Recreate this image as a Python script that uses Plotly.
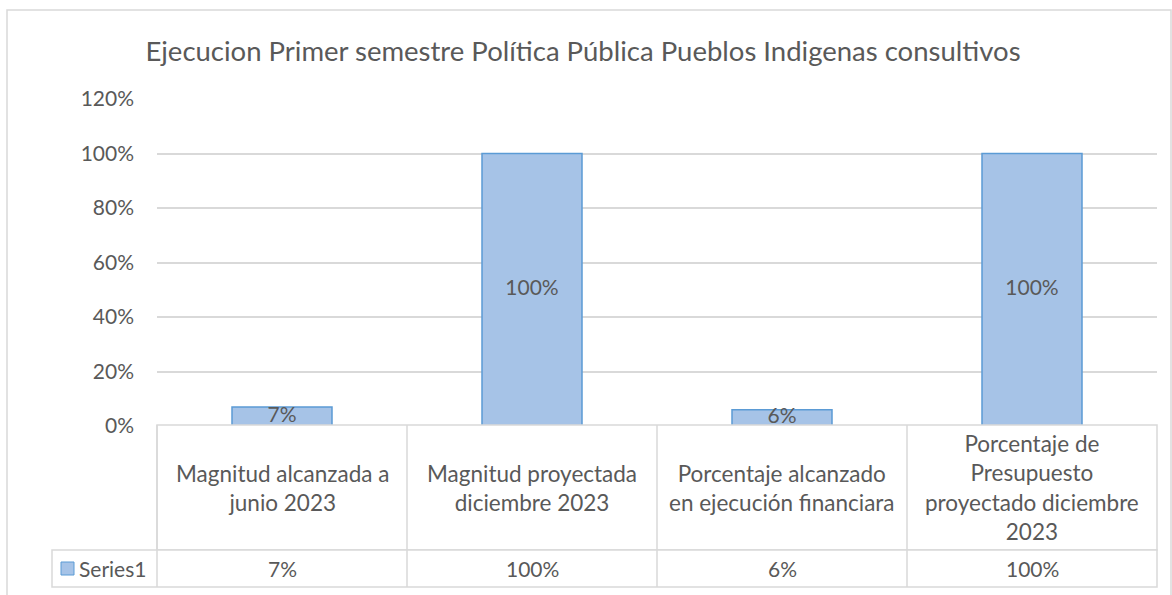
import plotly.graph_objects as go

# Data
categories = ["Magnitud alcanzada a junio 2023",
              "Magnitud proyectada diciembre 2023",
              "Porcentaje alcanzado en ejecución financiara",
              "Porcentaje de Presupuesto proyectado diciembre 2023"]
header_labels = ["Magnitud alcanzada a<br>junio 2023",
                 "Magnitud proyectada<br>diciembre 2023",
                 "Porcentaje alcanzado<br>en ejecución financiara",
                 "Porcentaje de<br>Presupuesto<br>proyectado diciembre<br>2023"]
values = [0.07, 1.00, 0.06, 1.00]
series_name = "Series1"
title = "Ejecucion Primer semestre Política Pública Pueblos Indigenas consultivos"

FONT = "Lato"
GREY = "#595959"
LINE = "#D9D9D9"
BAR = "#A6C3E7"
BAR_EDGE = "#5B9BD5"

# plot area in pixels: x 157..1157, y 99 (top, 120%) .. 426 (0%)
W, H = 1172, 595
L, R, T, B = 157, 1157, 99, 426


def px_x(p):
    return (p - L) / (R - L)


def px_y(p):
    return (B - p) / (B - T)


fig = go.Figure()

fig.add_trace(go.Bar(
    x=categories, y=values, name=series_name,
    marker=dict(color=BAR, line=dict(color=BAR_EDGE, width=1.5)),
    width=0.4, showlegend=False,
))

# data labels centred in the bars
fig.add_trace(go.Scatter(
    x=categories, y=[v / 2 for v in values], mode="text",
    text=[f"{v:.0%}" for v in values],
    textfont=dict(family=FONT, size=21, color=GREY),
    showlegend=False, hoverinfo="skip",
))

fig.update_layout(
    width=W, height=H,
    margin=dict(l=L, r=W - R, t=T, b=H - B),
    paper_bgcolor="white", plot_bgcolor="white",
    font=dict(family=FONT, color=GREY),
    title=dict(text=title, x=583 / W, xanchor="center",
               y=1 - 51 / H, yanchor="middle",
               font=dict(family=FONT, size=27.5, color=GREY)),
    xaxis=dict(showticklabels=False, showgrid=False, zeroline=False, showline=False),
    yaxis=dict(range=[0, 1.2], dtick=0.2, tickformat=".0%",
               showgrid=True, gridcolor=LINE, gridwidth=1.5, zeroline=False,
               tickfont=dict(family=FONT, size=21, color=GREY), ticklabelstandoff=22),
)

# data table beneath the axis
t_top, t_mid, t_bot = px_y(425), px_y(550), px_y(587)
shapes = []
shapes.append(dict(type="rect", xref="paper", yref="paper", x0=0, x1=1, y0=t_mid, y1=t_top,
                   fillcolor="white", line=dict(color=LINE, width=1.5), layer="above"))
shapes.append(dict(type="rect", xref="paper", yref="paper", x0=px_x(52), x1=1, y0=t_bot, y1=t_mid,
                   fillcolor="white", line=dict(color=LINE, width=1.5), layer="above"))
for i in range(1, len(categories)):
    shapes.append(dict(type="line", xref="paper", yref="paper", x0=i / len(categories),
                       x1=i / len(categories), y0=t_bot, y1=t_top,
                       line=dict(color=LINE, width=1.5), layer="above"))
shapes.append(dict(type="line", xref="paper", yref="paper", x0=0, x1=0, y0=t_bot, y1=t_top,
                   line=dict(color=LINE, width=1.5), layer="above"))
# legend key
shapes.append(dict(type="rect", xref="paper", yref="paper", x0=px_x(61), x1=px_x(74),
                   y0=px_y(575), y1=px_y(562), fillcolor=BAR,
                   line=dict(color=BAR_EDGE, width=1), layer="above"))
# chart border
shapes.append(dict(type="rect", xref="paper", yref="paper", x0=px_x(7), x1=px_x(1171),
                   y0=px_y(640), y1=px_y(10), line=dict(color=LINE, width=1.5), layer="above"))
fig.update_layout(shapes=shapes)

annotations = []
for cat, lab, v in zip(categories, header_labels, values):
    annotations.append(dict(x=cat, xref="x", y=(t_top + t_mid) / 2, yref="paper",
                            text=lab, showarrow=False, yanchor="middle",
                            font=dict(family=FONT, size=22.5, color=GREY)))
    annotations.append(dict(x=cat, xref="x", y=(t_mid + t_bot) / 2, yref="paper",
                            text=f"{v:.0%}", showarrow=False, yanchor="middle",
                            font=dict(family=FONT, size=21, color=GREY)))
annotations.append(dict(x=px_x(77), xref="paper", y=(t_mid + t_bot) / 2, yref="paper",
                        text=series_name, showarrow=False, xanchor="left", yanchor="middle",
                        font=dict(family=FONT, size=21, color=GREY)))
fig.update_layout(annotations=annotations)

# page margin off so the figure sits at the window's top-left corner
fig.write_html("out.html", config={"displayModeBar": False},
               post_script="document.body.style.margin='0';")
